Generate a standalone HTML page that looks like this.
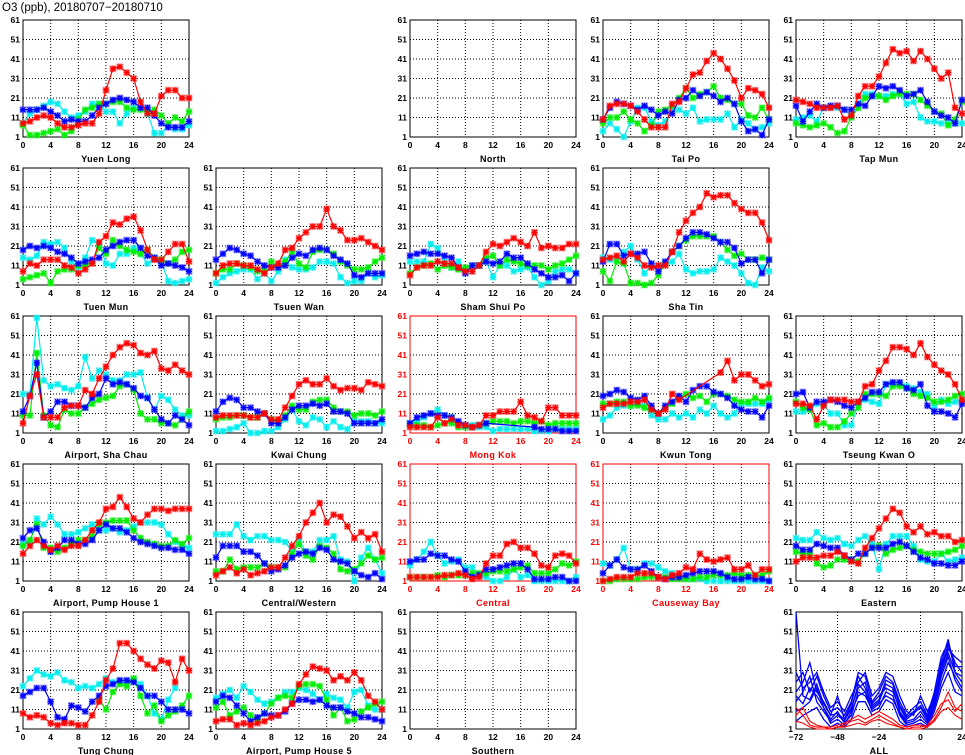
<!DOCTYPE html>
<html><head><meta charset="utf-8"><style>
html,body{margin:0;padding:0;background:#fff;}
svg{display:block;font-family:"Liberation Sans",sans-serif;}
</style></head><body>
<svg id="chart" width="965" height="755" viewBox="0 0 965 755" xmlns="http://www.w3.org/2000/svg">
<text x="2" y="11" font-size="11.5" fill="#000">O3 (ppb), 20180707−20180710</text>
</svg>
<script>
const hours = [0,1,2,3,4,5,6,7,8,9,10,11,12,13,14,15,16,17,18,19,20,21,22,23,24];
const xTicks = [0,4,8,12,16,20,24];
const yTicks = [1,11,21,31,41,51,61];
const allXTicks = [-72,-48,-24,0,24];
const allHours = [-72,-68,-64,-60,-56,-52,-48,-44,-40,-36,-32,-28,-24,-20,-16,-12,-8,-4,0,4,8,12,16,20,24];
const seriesColors = ["#ff0000","#0000ff","#00ee00","#00eeee"];
const N = null;

const yuenLongR = [8,9,11,12,11,8,6,6,7,8,8,13,25,36,37,34,31,19,13,13,22,25,25,21,21];
const yuenLongB = [15,15,15,16,14,12,9,10,9,9,12,16,18,20,21,20,19,16,16,12,8,6,6,6,9];
const yuenLongG = [7,2,2,3,4,5,2,4,10,15,16,18,18,19,19,16,15,15,14,15,12,8,11,9,14];
const yuenLongC = [8,13,15,17,19,18,14,11,12,14,18,18,14,14,8,13,16,16,13,3,3,7,5,5,7];

const taiPoR = [10,17,18,18,17,14,10,6,6,6,18,19,26,33,34,40,44,41,36,30,21,26,25,23,16];
const taiPoB = [10,16,19,18,17,15,17,15,12,14,13,20,21,25,22,24,22,19,21,18,9,4,5,2,10];
const taiPoG = [8,11,11,14,10,8,4,7,14,15,17,21,26,21,23,24,27,21,20,18,18,12,11,16,10];
const taiPoC = [4,8,5,1,9,16,16,9,7,9,15,15,13,16,9,10,10,10,13,6,10,8,5,6,8];

const tapMunR = [20,19,18,16,16,16,17,10,12,22,27,27,32,39,46,44,45,40,45,41,36,31,34,16,13];
const tapMunB = [17,9,14,18,16,17,17,15,15,18,17,22,27,26,27,25,22,23,25,19,14,12,11,8,20];
const tapMunG = [8,7,6,7,8,6,3,4,11,16,21,22,22,20,22,23,23,23,20,17,14,13,7,10,19];
const tapMunC = [10,11,12,9,16,16,16,15,12,18,23,23,22,22,23,23,18,19,11,9,9,8,8,8,8];

const tuenMunR = [8,12,11,14,14,14,11,10,7,9,12,23,26,33,32,35,36,29,19,14,14,18,22,22,13];
const tuenMunB = [19,21,20,21,20,18,17,15,12,13,14,15,19,21,23,24,24,20,16,15,11,12,11,10,8];
const tuenMunG = [4,5,6,7,2,8,9,9,11,11,13,20,17,24,21,19,18,17,19,15,14,12,14,18,19];
const tuenMunC = [15,14,16,23,22,23,20,13,10,15,24,22,12,11,17,17,20,17,12,14,13,3,2,3,4];

const tsuenWanR = [7,11,12,12,11,11,9,7,10,12,19,20,25,28,31,31,40,31,29,24,24,25,23,21,19];
const tsuenWanB = [14,17,20,19,17,16,13,11,10,10,11,15,17,16,19,20,19,16,14,12,6,5,7,7,7];
const tsuenWanG = [7,9,9,12,11,10,8,9,13,10,13,18,12,10,18,19,19,17,13,11,9,9,10,13,15];
const tsuenWanC = [2,5,7,8,9,9,4,7,3,8,14,10,9,9,10,13,13,12,5,2,3,3,7,5,6];

const shamShuiPoR = [6,10,11,11,13,12,12,10,8,8,11,18,22,21,23,25,23,21,28,20,21,20,20,22,22];
const shamShuiPoB = [16,17,18,17,17,16,15,10,7,11,11,13,12,13,17,15,15,12,9,7,5,5,6,3,7];
const shamShuiPoG = [7,10,11,12,9,11,10,9,10,11,11,15,16,11,14,13,12,11,11,11,9,11,12,14,16];
const shamShuiPoC = [13,13,13,22,20,13,10,13,8,8,11,13,5,11,11,8,9,10,5,1,3,8,9,9,7];

const shaTinR = [14,15,16,13,17,15,11,10,11,11,18,28,34,38,41,48,46,47,47,43,40,38,38,33,24];
const shaTinB = [13,22,22,16,17,17,18,12,8,13,18,21,25,28,28,27,25,23,23,20,12,14,14,7,14];
const shaTinG = [8,3,13,12,2,2,1,2,6,12,18,21,24,26,26,26,26,23,19,16,17,14,14,15,14];
const shaTinC = [15,14,14,18,21,14,7,11,11,12,13,17,9,7,8,8,9,15,13,11,7,2,1,10,8];

const shaChauR = [6,20,31,9,9,9,14,15,15,23,21,29,35,41,45,47,46,42,41,43,34,33,36,33,31];
const shaChauB = [12,20,37,9,12,17,17,15,15,14,19,21,29,26,27,26,24,20,19,13,8,6,10,8,5];
const shaChauG = [10,10,42,10,5,4,13,11,11,14,16,18,19,20,25,26,23,11,8,8,6,6,5,8,12];
const shaChauC = [21,21,60,28,25,26,24,23,25,40,29,33,31,28,28,31,31,32,19,13,20,18,13,10,10];

const kwaiChungR = [9,10,10,10,10,9,9,11,8,8,14,20,26,28,26,26,29,25,23,24,24,23,27,26,25];
const kwaiChungB = [12,17,19,18,14,14,12,11,6,6,9,13,15,15,16,15,16,12,12,11,6,6,6,6,8];
const kwaiChungG = [8,9,9,10,10,9,9,11,8,7,10,15,13,13,17,18,18,14,12,12,10,11,11,10,12];
const kwaiChungC = [2,2,3,4,6,1,1,2,2,4,8,13,7,5,9,8,4,7,4,3,7,7,7,6,6];

const mongKokR = [4,4,4,4,9,6,8,5,5,4,5,10,10,12,12,12,17,10,9,7,14,14,10,10,10];
const mongKokB = [6,9,10,11,10,10,9,7,5,4,5,6,N,N,N,N,N,N,4,3,3,3,2,2,2];
const mongKokG = [5,5,5,4,5,6,6,4,4,4,5,6,7,7,7,6,7,7,6,7,5,6,6,6,6];
const mongKokC = [6,7,9,11,13,10,9,5,5,5,4,4,2,3,3,3,3,3,2,2,2,3,3,3,3];

const kwunTongR = [14,16,16,16,17,17,18,13,11,13,21,18,N,N,N,N,N,32,38,28,31,31,28,25,26];
const kwunTongB = [20,21,23,22,19,18,20,15,11,15,17,20,17,23,25,25,22,21,19,15,13,12,12,9,15];
const kwunTongG = [16,16,17,17,15,15,14,13,11,14,16,19,21,19,20,17,21,21,20,18,17,17,19,17,19];
const kwunTongC = [8,10,14,15,15,16,15,10,8,8,11,9,11,9,13,11,15,11,9,11,16,16,16,16,18];

const tkoR = [16,16,15,8,15,18,18,18,17,17,25,26,33,38,45,45,44,41,47,40,36,33,31,26,18];
const tkoB = [21,22,14,17,17,18,17,15,14,17,19,22,22,26,27,27,24,23,26,15,12,12,11,9,16];
const tkoG = [17,14,13,5,6,4,4,7,11,14,21,21,21,20,25,25,24,21,20,19,17,17,18,20,21];
const tkoC = [12,12,13,16,16,11,11,5,5,16,18,17,16,26,26,26,25,24,22,21,14,18,16,17,18];

const pump1R = [15,19,22,19,17,19,17,19,19,22,27,31,38,39,44,39,33,31,35,38,38,37,38,38,38];
const pump1B = [23,27,28,21,16,18,22,22,20,20,22,27,30,28,28,26,23,21,20,19,18,18,17,17,15];
const pump1G = [19,22,30,18,18,16,18,20,22,22,24,30,31,32,32,32,27,23,21,20,19,19,22,20,23];
const pump1C = [20,21,33,30,34,30,25,25,26,28,30,27,27,28,26,27,29,31,31,31,30,25,21,19,18];

const centralWesternR = [4,6,8,5,7,4,5,6,8,8,13,19,24,31,36,41,31,35,34,29,23,26,23,25,16];
const centralWesternB = [13,19,19,19,16,16,14,10,6,7,9,13,15,16,15,18,17,12,11,10,6,4,3,5,2];
const centralWesternG = [6,6,12,7,8,8,8,10,8,8,8,15,20,14,12,19,18,15,7,6,7,10,14,12,13];
const centralWesternC = [25,25,25,30,24,22,24,24,22,22,21,16,22,16,16,22,22,24,12,11,1,13,18,12,5];

const centralR = [3,3,3,3,3,4,4,5,4,2,3,10,14,14,20,21,18,18,15,9,8,14,15,14,10];
const centralB = [11,12,12,15,14,14,12,11,6,3,4,7,7,8,9,10,10,7,2,2,2,3,3,1,1];
const centralG = [3,3,3,3,4,3,4,4,4,5,5,5,6,6,6,7,8,9,5,5,5,7,10,9,11];
const centralC = [9,12,16,21,14,10,11,12,8,8,4,3,1,1,3,7,3,4,1,1,1,1,1,1,3];

const causewayR = [1,2,3,3,3,5,5,5,3,2,4,5,8,7,15,12,11,12,13,7,7,9,4,7,7];
const causewayB = [5,9,12,8,7,7,9,6,3,2,3,3,4,5,6,6,6,5,3,2,2,3,2,2,1];
const causewayG = [1,1,2,2,2,2,3,3,3,3,2,2,2,2,3,3,4,4,4,5,4,4,4,4,6];
const causewayC = [10,9,12,18,7,7,10,10,8,6,5,3,2,2,2,1,1,1,1,1,1,1,1,1,1];

const easternR = [11,13,13,13,14,14,16,14,11,10,18,23,28,33,38,36,29,26,29,25,26,24,24,21,22];
const easternB = [19,17,17,20,19,18,18,14,12,15,15,18,18,18,20,21,19,16,13,12,10,10,9,9,11];
const easternG = [16,15,15,10,8,9,12,12,12,11,15,18,19,15,17,18,19,17,16,15,15,15,16,17,19];
const easternC = [23,22,22,26,23,22,23,20,19,22,24,20,7,20,24,24,24,19,12,11,11,15,11,12,13];

const tungChungR = [9,7,8,7,4,3,4,4,3,3,8,15,26,32,45,45,41,37,34,32,36,35,25,37,31];
const tungChungB = [18,20,22,22,15,7,6,13,12,10,15,18,23,24,26,26,25,22,18,18,15,11,11,11,9];
const tungChungG = [N,N,N,N,N,N,N,N,N,N,N,16,11,20,24,23,27,18,9,13,5,8,10,13,18];
const tungChungC = [23,27,31,29,28,30,26,25,22,23,22,24,27,25,25,25,26,24,18,9,6,16,22,N,N];

const pump5R = [5,6,6,3,4,3,4,5,7,8,11,14,24,29,33,32,31,26,28,26,30,26,18,15,11];
const pump5B = [15,18,17,13,9,5,7,9,8,8,10,14,16,16,15,16,13,12,12,10,9,7,7,6,5];
const pump5G = [12,15,8,10,12,8,6,9,14,17,18,17,23,24,24,23,16,8,12,5,6,10,12,14,15];
const pump5C = [17,19,21,17,23,20,16,14,15,17,20,20,22,21,19,16,19,17,16,12,20,21,13,11,11];

const allBlue1 = [25,30,20,28,18,10,12,8,15,30,28,15,20,28,25,15,8,12,15,8,20,38,45,35,30];
const allBlue2 = [15,20,28,15,10,5,8,5,12,22,25,12,15,24,22,10,5,6,10,5,15,30,40,30,25];
const allBlue3 = [10,12,15,22,12,4,6,3,10,18,20,10,12,20,18,8,3,4,6,3,12,25,35,28,22];
const allBlue4 = [30,22,25,30,20,12,15,10,18,25,30,18,22,30,28,18,10,8,18,10,18,32,42,38,35];
const allBlue5 = [5,8,10,12,6,2,4,2,6,15,15,8,10,16,14,5,2,3,4,2,10,22,30,20,18];
const allBlue6 = [20,25,35,20,15,8,18,6,14,28,22,14,18,22,20,12,6,9,12,6,16,35,47,30,28];
const allBlue7 = [18,14,22,18,12,6,10,4,8,20,18,11,14,18,16,9,4,5,8,4,14,28,38,26,20];
const allBlue8 = [61,18,16,24,14,8,9,6,11,24,20,13,16,26,24,13,7,10,13,7,17,33,44,33,33];
const allRed1 = [8,12,5,3,2,2,3,4,6,8,6,8,10,8,6,3,2,3,3,2,6,12,20,12,10];
const allRed2 = [12,8,3,2,2,1,2,3,5,6,4,6,8,6,4,2,1,2,2,3,8,14,16,10,14];
const allRed3 = [5,4,2,1,1,1,2,2,3,4,3,5,6,4,3,2,1,1,1,2,5,10,12,8,6];

const panels = [
 {name:"Yuen Long",col:0,row:0,red:false,s:[yuenLongR,yuenLongB,yuenLongG,yuenLongC]},
 {name:"North",col:2,row:0,red:false,s:[]},
 {name:"Tai Po",col:3,row:0,red:false,s:[taiPoR,taiPoB,taiPoG,taiPoC]},
 {name:"Tap Mun",col:4,row:0,red:false,s:[tapMunR,tapMunB,tapMunG,tapMunC]},
 {name:"Tuen Mun",col:0,row:1,red:false,s:[tuenMunR,tuenMunB,tuenMunG,tuenMunC]},
 {name:"Tsuen Wan",col:1,row:1,red:false,s:[tsuenWanR,tsuenWanB,tsuenWanG,tsuenWanC]},
 {name:"Sham Shui Po",col:2,row:1,red:false,s:[shamShuiPoR,shamShuiPoB,shamShuiPoG,shamShuiPoC]},
 {name:"Sha Tin",col:3,row:1,red:false,s:[shaTinR,shaTinB,shaTinG,shaTinC]},
 {name:"Airport, Sha Chau",col:0,row:2,red:false,s:[shaChauR,shaChauB,shaChauG,shaChauC]},
 {name:"Kwai Chung",col:1,row:2,red:false,s:[kwaiChungR,kwaiChungB,kwaiChungG,kwaiChungC]},
 {name:"Mong Kok",col:2,row:2,red:true,s:[mongKokR,mongKokB,mongKokG,mongKokC]},
 {name:"Kwun Tong",col:3,row:2,red:false,s:[kwunTongR,kwunTongB,kwunTongG,kwunTongC]},
 {name:"Tseung Kwan O",col:4,row:2,red:false,s:[tkoR,tkoB,tkoG,tkoC]},
 {name:"Airport, Pump House 1",col:0,row:3,red:false,s:[pump1R,pump1B,pump1G,pump1C]},
 {name:"Central/Western",col:1,row:3,red:false,s:[centralWesternR,centralWesternB,centralWesternG,centralWesternC]},
 {name:"Central",col:2,row:3,red:true,s:[centralR,centralB,centralG,centralC]},
 {name:"Causeway Bay",col:3,row:3,red:true,s:[causewayR,causewayB,causewayG,causewayC]},
 {name:"Eastern",col:4,row:3,red:false,s:[easternR,easternB,easternG,easternC]},
 {name:"Tung Chung",col:0,row:4,red:false,s:[tungChungR,tungChungB,tungChungG,tungChungC]},
 {name:"Airport, Pump House 5",col:1,row:4,red:false,s:[pump5R,pump5B,pump5G,pump5C]},
 {name:"Southern",col:2,row:4,red:false,s:[]}
];

const NS = "http://www.w3.org/2000/svg";
const svg = document.getElementById("chart");
const colX = [23,216,410,603,796];
const rowY = [20,168,316,464,612];
const PW = 166, PH = 117;
function mk(tag, attrs, parent){
  const e = document.createElementNS(NS, tag);
  for (const k in attrs) e.setAttribute(k, attrs[k]);
  (parent||svg).appendChild(e);
  return e;
}
function slug(s){return s.toLowerCase().replace(/[^a-z0-9]+/g,'-').replace(/-+$/,'');}

function drawFrame(g, x0, y0, xmin, xmax, ticks, color, label){
  const sx = t => x0 + PW*(t-xmin)/(xmax-xmin);
  const sy = v => y0 + PH*(61-v)/60;
  for (const t of ticks) {
    if (t===xmin||t===xmax) continue;
    const l = mk("line",{x1:sx(t),x2:sx(t),y1:y0,y2:y0+PH,stroke:"#000","stroke-width":1,"stroke-dasharray":"1,2"},g);
    
    
  }
  for (const v of yTicks) {
    if (v===1||v===61) continue;
    const l = mk("line",{x1:x0,x2:x0+PW,y1:sy(v),y2:sy(v),stroke:"#000","stroke-width":1,"stroke-dasharray":"1,2"},g);
    
    
  }
  const r = mk("rect",{x:x0,y:y0,width:PW,height:PH,fill:"none",stroke:color,"stroke-width":1},g);
  
  
  for (const v of yTicks) {
    const t = mk("text",{x:x0-3,y:sy(v)+3,"font-size":8.5,"font-weight":"bold","text-anchor":"end",fill:color},g);
    t.textContent = v;
    
    
  }
  for (const v of ticks) {
    const t = mk("text",{x:sx(v),y:y0+PH+11,"font-size":8.5,"font-weight":"bold","text-anchor":"middle",fill:color},g);
    t.textContent = (v<0?"−"+(-v):v);
    
    
  }
  const tl = mk("text",{x:x0+PW/2,y:y0+PH+25,"font-size":9,"font-weight":"bold","text-anchor":"middle",fill:color,"letter-spacing":"0.4"},g);
  tl.textContent = label;
  
  
  return {sx, sy};
}

for (const p of panels) {
  const g = mk("g",{});
  
  
  const x0 = colX[p.col], y0 = rowY[p.row];
  const {sx, sy} = drawFrame(g, x0, y0, 0, 24, xTicks, p.red?"#ff0000":"#000", p.name);
  const order = [3,2,1,0];
  for (const si of order) {
    const vals = p.s[si];
    if (!vals) continue;
    const col = seriesColors[si];
    const pts = [];
    hours.forEach((h,i)=>{ if (vals[i]!==null && vals[i]!==undefined) pts.push([sx(h), sy(vals[i])]); });
    const sg = mk("g",{},g);
    
    
    const pl = mk("polyline",{points:pts.map(q=>q.join(",")).join(" "),fill:"none",stroke:col,"stroke-width":1.2},sg);
    
    
    for (const [x,y] of pts) {
      const m = mk("path",{d:`M${x-3},${y}H${x+3}M${x},${y-3}V${y+3}M${x-2.5},${y-2.5}L${x+2.5},${y+2.5}M${x-2.5},${y+2.5}L${x+2.5},${y-2.5}`,stroke:col,"stroke-width":1.3,fill:"none"},sg);
      
      
      const b = mk("rect",{x:x-3.5,y:y-3.5,width:7,height:7,fill:col,"fill-opacity":0.3},sg);
      
      
    }
  }
}

// ALL panel
{
  const g = mk("g",{});
  
  
  const {sx, sy} = drawFrame(g, colX[4], rowY[4], -72, 24, allXTicks, "#000", "ALL");
  const blues = [allBlue1,allBlue2,allBlue3,allBlue4,allBlue5,allBlue6,allBlue7,allBlue8];
  const reds = [allRed1,allRed2,allRed3];
  for (const vals of blues) {
    const pl = mk("polyline",{points:allHours.map((h,i)=>sx(h)+","+sy(vals[i])).join(" "),fill:"none",stroke:"#0000ff","stroke-width":1.3},g);
    
    
  }
  for (const vals of reds) {
    const pl = mk("polyline",{points:allHours.map((h,i)=>sx(h)+","+sy(vals[i])).join(" "),fill:"none",stroke:"#ff0000","stroke-width":1.1},g);
    
    
  }
}
</script>
</body></html>
